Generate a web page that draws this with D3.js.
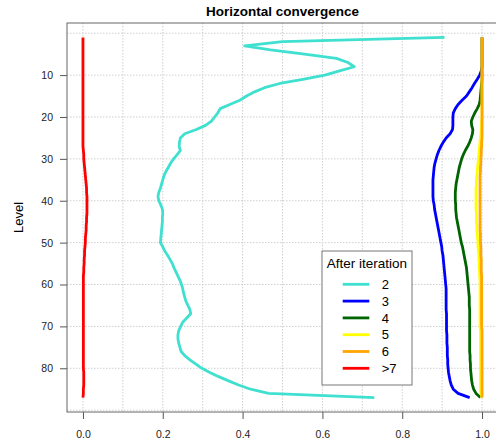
<!DOCTYPE html>
<html>
<head>
<meta charset="utf-8">
<script src="https://cdn.jsdelivr.net/npm/d3@7"></script>
<style>
    body { margin: 0; background: #fff; }
    svg { display: block; font-family: 'Liberation Sans', Arial, sans-serif; }
    .grid line { stroke: #cfcfcf; stroke-dasharray: 1.5,1.5; }
    .axis path { display: none; }
    .axis line { stroke: #555; }
    .axis text { fill: #222; font-size: 10.5px; }
</style>
</head>
<body>
<svg class="conv" width="496" height="443"></svg>
<script>
    'use strict'

    const levels = d3.range(1, 88);

    const iter2 = [0.906, 0.50, 0.405, 0.47, 0.555, 0.635, 0.664, 0.68, 0.643, 0.606,
        0.551, 0.493, 0.455, 0.43, 0.41, 0.393, 0.368, 0.344, 0.338, 0.33,
        0.322, 0.307, 0.284, 0.255, 0.244, 0.242, 0.241, 0.244, 0.236, 0.227,
        0.22, 0.214, 0.208, 0.203, 0.20, 0.197, 0.194, 0.19, 0.188, 0.19,
        0.195, 0.199, 0.2, 0.199, 0.199, 0.198, 0.197, 0.196, 0.195, 0.194,
        0.20, 0.205, 0.212, 0.218, 0.224, 0.228, 0.233, 0.238, 0.243, 0.247,
        0.25, 0.252, 0.255, 0.258, 0.263, 0.268, 0.27, 0.26, 0.25, 0.245,
        0.24, 0.238, 0.238, 0.24, 0.243, 0.246, 0.255, 0.268, 0.283, 0.298,
        0.318, 0.34, 0.365, 0.39, 0.42, 0.465, 0.73];

    const iter3 = [1, 1, 1, 1, 1, 1, 1, 1, 0.998,
        0.994, 0.988, 0.981, 0.975, 0.968, 0.961, 0.95, 0.94, 0.933, 0.928,
        0.927, 0.927, 0.927, 0.926, 0.92, 0.91, 0.903, 0.897, 0.892, 0.888,
        0.885, 0.882, 0.88, 0.879, 0.878, 0.877, 0.877, 0.877, 0.877, 0.877,
        0.878, 0.88, 0.881, 0.883, 0.885, 0.887, 0.889, 0.891, 0.893, 0.895,
        0.897, 0.899, 0.9, 0.902, 0.903, 0.904, 0.905, 0.906, 0.907, 0.908,
        0.909, 0.91, 0.91, 0.91, 0.91, 0.91, 0.91, 0.911, 0.911, 0.911,
        0.911, 0.911, 0.912, 0.912, 0.912, 0.913, 0.913, 0.913, 0.914, 0.914,
        0.915, 0.916, 0.918, 0.92, 0.923, 0.928, 0.94, 0.969];

    const iter4 = [1, 1, 1, 1, 1, 1, 1, 1, 1, 1,
        1, 0.999, 0.998, 0.997, 0.996, 0.995, 0.993, 0.988, 0.982, 0.977,
        0.973, 0.974, 0.977, 0.976, 0.973, 0.969, 0.964, 0.958, 0.953, 0.949,
        0.946, 0.943, 0.941, 0.939, 0.937, 0.935, 0.934, 0.933, 0.933, 0.933,
        0.934, 0.934, 0.935, 0.936, 0.938, 0.94, 0.942, 0.944, 0.946, 0.948,
        0.951, 0.953, 0.955, 0.957, 0.959, 0.961, 0.962, 0.963, 0.964, 0.965,
        0.966, 0.967, 0.968, 0.968, 0.968, 0.969, 0.969, 0.969, 0.969, 0.969,
        0.969, 0.969, 0.969, 0.969, 0.969, 0.969, 0.97, 0.97, 0.971, 0.971,
        0.972, 0.973, 0.974, 0.976, 0.979, 0.985, 0.996];

    const iter5 = [1, 1, 1, 1, 1, 1, 1, 1, 1, 1,
        1, 1, 1, 1, 1, 1, 1, 1, 1, 1,
        0.999, 0.999, 0.998, 0.997, 0.996, 0.995, 0.994, 0.993, 0.992, 0.991,
        0.99, 0.989, 0.988, 0.987, 0.986, 0.986, 0.985, 0.985, 0.985, 0.985,
        0.985, 0.985, 0.986, 0.986, 0.986, 0.987, 0.987, 0.988, 0.989, 0.99,
        0.99, 0.991, 0.992, 0.992, 0.993, 0.993, 0.994, 0.994, 0.995, 0.995,
        0.995, 0.995, 0.995, 0.995, 0.995, 0.995, 0.995, 0.995, 0.995, 0.995,
        0.996, 0.996, 0.996, 0.996, 0.996, 0.996, 0.996, 0.996, 0.996, 0.996,
        0.996, 0.996, 0.996, 0.996, 0.996, 0.997, 1];

    const iter6 = [1, 1, 1, 1, 1, 1, 1, 1, 1, 1,
        1, 1, 1, 1, 1, 1, 1, 1, 1, 1,
        1, 1, 1, 1, 1, 0.999, 0.999, 0.998, 0.998, 0.997,
        0.997, 0.996, 0.996, 0.995, 0.995, 0.995, 0.995, 0.995, 0.995, 0.995,
        0.995, 0.995, 0.995, 0.995, 0.995, 0.995, 0.995, 0.996, 0.996, 0.996,
        0.997, 0.997, 0.997, 0.998, 0.998, 0.998, 0.998, 0.999, 0.999, 0.999,
        0.999, 0.999, 0.999, 0.999, 0.999, 0.999, 0.999, 0.999, 0.999, 0.999,
        1, 1, 1, 1, 1, 1, 1, 1, 1, 1,
        1, 1, 1, 1, 1, 1, 1];

    const iter7 = [0, 0, 0, 0, 0, 0, 0, 0, 0, 0,
        0, 0, 0, 0, 0, 0, 0, 0, 0, 0,
        0, 0, 0, 0, 0, 0, 0, 0.001, 0.002, 0.002,
        0.003, 0.004, 0.005, 0.006, 0.007, 0.008, 0.009, 0.009, 0.01, 0.01,
        0.01, 0.01, 0.01, 0.009, 0.009, 0.008, 0.008, 0.007, 0.006, 0.006,
        0.005, 0.004, 0.004, 0.003, 0.003, 0.002, 0.002, 0.001, 0.001, 0.001,
        0.001, 0.001, 0.001, 0.001, 0.001, 0.001, 0.001, 0.001, 0.001, 0.001,
        0.001, 0.001, 0.001, 0.001, 0.001, 0.001, 0.001, 0.001, 0.001, 0.001,
        0.002, 0.002, 0.002, 0.002, 0.001, 0.001, 0];

    const seriesNames = ['2', '3', '4', '5', '6', '>7'];
    const seriesColors = ['#40e0d0', '#0000ff', '#006400', '#ffff00', '#ffa500', '#ff0000'];
    const seriesValues = [iter2, iter3, iter4, iter5, iter6, iter7];

    const xTicks = [0, 0.2, 0.4, 0.6, 0.8, 1.0];
    const xGrid = d3.range(0, 11).map((i) => i / 10);
    const yTicks = [10, 20, 30, 40, 50, 60, 70, 80];
    const yGrid = [0, 10, 20, 30, 40, 50, 60, 70, 80, 90];

    const svg = d3.select('svg.conv'),
        box = { left: 67, right: 498, top: 23, bottom: 412 };

    // R style 4% padding around the data range
    const x = d3.scaleLinear().domain([-0.04, 1.04]).range([box.left, box.right]);
    const y = d3.scaleLinear().domain([-2.44, 90.44]).range([box.top, box.bottom]);

    // grid
    const grid = svg.append('g').attr('class', 'grid');
    grid.selectAll('.vg')
        .data(xGrid)
        .enter().append('line')
        .attr('x1', (d) => x(d)).attr('x2', (d) => x(d))
        .attr('y1', box.top).attr('y2', box.bottom);
    grid.selectAll('.hg')
        .data(yGrid)
        .enter().append('line')
        .attr('y1', (d) => y(d)).attr('y2', (d) => y(d))
        .attr('x1', box.left).attr('x2', box.right);

    // axes
    svg.append('g')
        .attr('class', 'axis')
        .attr('transform', 'translate(0,' + box.bottom + ')')
        .call(d3.axisBottom(x).tickValues(xTicks).tickFormat(d3.format('.1f')).tickSize(7).tickPadding(12));

    svg.append('g')
        .attr('class', 'axis')
        .attr('transform', 'translate(' + box.left + ',0)')
        .call(d3.axisLeft(y).tickValues(yTicks).tickSize(7).tickPadding(7));

    // lines
    const line = d3.line()
        .x((d) => x(d.v))
        .y((d) => y(d.level));

    seriesValues.forEach((vals, i) => {
        const pts = levels.map((lv, k) => ({ level: lv, v: vals[k] }));
        svg.append('path')
            .datum(pts)
            .attr('fill', 'none')
            .attr('stroke', seriesColors[i])
            .attr('stroke-width', 2.8)
            .attr('stroke-linejoin', 'round')
            .attr('d', line);
    });

    // frame
    svg.append('rect')
        .attr('x', box.left).attr('y', box.top)
        .attr('width', box.right - box.left).attr('height', box.bottom - box.top)
        .attr('fill', 'none').attr('stroke', '#666').attr('stroke-width', 1);

    // title and axis label
    svg.append('text')
        .attr('x', (box.left + box.right) / 2).attr('y', 16)
        .attr('text-anchor', 'middle')
        .style('font-size', '13.5px').style('font-weight', 'bold')
        .text('Horizontal convergence');

    svg.append('text')
        .attr('text-anchor', 'middle')
        .attr('transform', 'translate(22.5,' + ((box.top + box.bottom) / 2) + ')rotate(-90)')
        .style('font-size', '13px')
        .text('Level');

    // legend
    const lg = svg.append('g').attr('transform', 'translate(322,251)');
    lg.append('rect')
        .attr('width', 90).attr('height', 134)
        .attr('fill', '#fff').attr('stroke', '#777');
    lg.append('text')
        .attr('x', 45).attr('y', 17)
        .attr('text-anchor', 'middle')
        .style('font-size', '13.5px')
        .text('After iteration');
    seriesNames.forEach((name, i) => {
        const cy = 33.3 + i * 16.8;
        lg.append('line')
            .attr('x1', 20.7).attr('x2', 47.3)
            .attr('y1', cy).attr('y2', cy)
            .attr('stroke', seriesColors[i]).attr('stroke-width', 2.8);
        lg.append('text')
            .attr('x', 59.7).attr('y', cy)
            .attr('dy', '0.36em')
            .style('font-size', '13px')
            .text(name);
    });
</script>
</body>
</html>
